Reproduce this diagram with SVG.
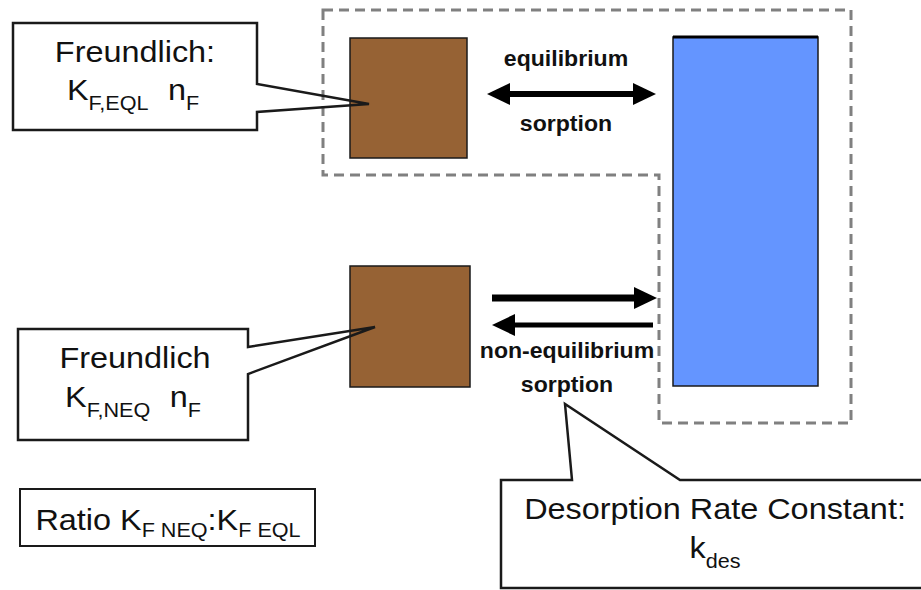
<svg xmlns="http://www.w3.org/2000/svg" width="921" height="590" viewBox="0 0 921 590">
<style>
.t{font-family:"Liberation Sans",Arial,sans-serif;fill:#111;font-size:30px;text-anchor:middle}
.lb{font-family:"Liberation Sans",Arial,sans-serif;fill:#111;font-size:22px;font-weight:bold;text-anchor:middle}
.sub{font-size:20px}
.callout{fill:none;stroke:#1a1a1a;stroke-width:2.5;stroke-linejoin:miter}
.soil{fill:#966234;stroke:#1a1a1a;stroke-width:1.5}
.water{fill:#6495ff;stroke:#1a1a1a;stroke-width:1.5}
.zone{fill:none;stroke:#808080;stroke-width:3;stroke-dasharray:10 6}
.arr{stroke:#000;fill:none}
</style>
<defs>
<marker id="ah" markerUnits="userSpaceOnUse" markerWidth="24" markerHeight="24" refX="0" refY="12" orient="auto-start-reverse" viewBox="0 0 24 24">
<path d="M0,1 L23,12 L0,23 Z" fill="#000"/>
</marker>
</defs>
<rect width="921" height="590" fill="#fff"/>

<g id="zone">
<path class="zone" d="M323,10 H851 V423 H659 V175 H323 Z"/>
</g>

<g id="soil-eql"><rect class="soil" x="350" y="38" width="117" height="120"/></g>
<g id="soil-neq"><rect class="soil" x="350" y="266" width="120" height="121"/></g>
<g id="water">
<rect class="water" x="673" y="37" width="145" height="349"/>
<line x1="673" y1="37" x2="818" y2="37" stroke="#000" stroke-width="3"/>
</g>

<g id="connectors">
<line class="arr" x1="510" y1="94" x2="633" y2="94" stroke-width="6" marker-start="url(#ah)" marker-end="url(#ah)"/>
<line class="arr" x1="492" y1="298" x2="634" y2="298" stroke-width="7" marker-end="url(#ah)"/>
<line class="arr" x1="653" y1="325" x2="515" y2="325" stroke-width="5" marker-end="url(#ah)"/>
</g>

<g id="label-eql">
<text class="lb" transform="matrix(1.05,0,0,1,566,66)">equilibrium</text>
<text class="lb" transform="matrix(1.05,0,0,1,566,131)">sorption</text>
</g>
<g id="label-neq">
<text class="lb" transform="matrix(1.05,0,0,1,567,358)">non-equilibrium</text>
<text class="lb" transform="matrix(1.05,0,0,1,567,392)">sorption</text>
</g>

<g id="callout-eql">
<path class="callout" d="M257,84 V23 H13 V130 H257 V112 L369,104 Z"/>
<text class="t" transform="matrix(1.08,0,0,1,135,62)">Freundlich:</text>
<text class="t" transform="matrix(1.08,0,0,1,133,100)">K<tspan class="sub" dy="10">F,EQL</tspan><tspan dx="18" dy="-10">n</tspan><tspan class="sub" dy="10">F</tspan></text>
</g>

<g id="callout-neq">
<path class="callout" d="M248,347 V329 H18 V440 H248 V374 L375,327 Z"/>
<text class="t" transform="matrix(1.08,0,0,1,135,368)">Freundlich</text>
<text class="t" transform="matrix(1.08,0,0,1,133,407)">K<tspan class="sub" dy="10">F,NEQ</tspan><tspan dx="18" dy="-10">n</tspan><tspan class="sub" dy="10">F</tspan></text>
</g>

<g id="callout-kdes">
<path class="callout" d="M930,588 H501 V480 H572 L565,404 L680,480 H930"/>
<text class="t" transform="matrix(1.08,0,0,1,715,519)">Desorption Rate Constant:</text>
<text class="t" transform="matrix(1.08,0,0,1,715,558)">k<tspan class="sub" dy="10">des</tspan></text>
</g>

<g id="ratio">
<rect x="20" y="489" width="295" height="57" fill="none" stroke="#1a1a1a" stroke-width="2"/>
<text class="t" transform="matrix(1.08,0,0,1,168,530)">Ratio K<tspan class="sub" dy="7">F NEQ</tspan><tspan dy="-7">:K</tspan><tspan class="sub" dy="7">F EQL</tspan></text>
</g>
</svg>
